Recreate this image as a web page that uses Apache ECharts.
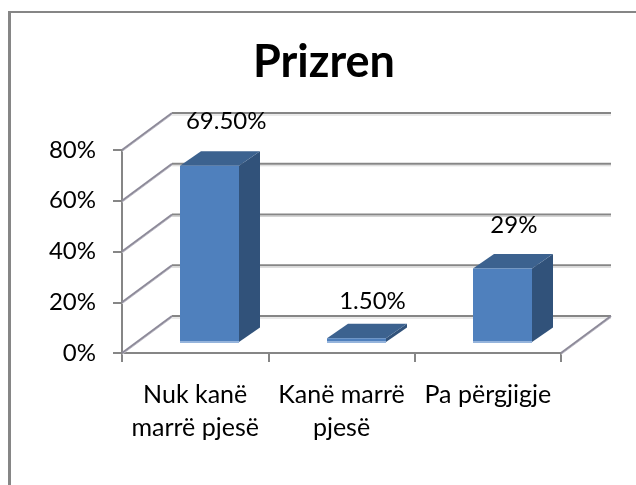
<!DOCTYPE html>
<html>
<head>
<meta charset="utf-8">
<style>
    html, body { margin: 0; padding: 0; background: #fff; }
    #chart { width: 636px; height: 485px; }
</style>
<script src="https://cdn.jsdelivr.net/npm/echarts@6/dist/echarts.min.js"></script>
</head>
<body>
<div id="chart"></div>
<script>
    var titleText = 'Prizren';
    var categories = ['Nuk kanë\nmarrë pjesë', 'Kanë marrë\npjesë', 'Pa përgjigje'];
    var values = [69.5, 1.5, 29];
    var valueLabels = ['69.50%', '1.50%', '29%'];
    var wallTicks = [0, 20, 40, 60, 80];

    var fontName = 'Lato';
    var axisColor = '#868686';
    // pseudo 3D: depth of the walls and of the bars, in pixels
    var wallDepth = [50, -37];
    var barDepth = [21, -14.5];
    var barWidth = 59;
    var barShift = [14.5, -11];
    var labelNudge = [[6, -30], [6, -22], [1, -29]];

    var myEcharts = echarts.init(document.getElementById('chart'));

    function line(x1, y1, x2, y2, color, width) {
        return {
            type: 'line',
            shape: { x1: x1, y1: y1, x2: x2, y2: y2 },
            style: { stroke: color, lineWidth: width }
        };
    }

    function poly(points, color) {
        return { type: 'polygon', shape: { points: points }, style: { fill: color } };
    }

    // back wall: gridlines shifted by the depth and the diagonals joining them to the axis
    function renderWall(params, api) {
        var v = api.value(0);
        var sys = params.coordSys;
        var y = api.coord([0, v])[1];
        var left = sys.x;
        var right = sys.x + sys.width;
        var backY = y + wallDepth[1];
        var children = [
            line(left + wallDepth[0], backY + 2, right + wallDepth[0], backY + 2, '#d4d4d4', 1),
            line(left + wallDepth[0], backY, right + wallDepth[0], backY, axisColor, 2),
            line(left, y + 1.5, left + wallDepth[0], backY + 1.5, '#c4c2cc', 1),
            line(left, y, left + wallDepth[0], backY, '#8d8a99', 2)
        ];
        if (v === 0) {
            children.push(line(right, y + 1.5, right + wallDepth[0], backY + 1.5, '#c4c2cc', 1));
            children.push(line(right, y, right + wallDepth[0], backY, '#8d8a99', 2));
        }
        return { type: 'group', children: children };
    }

    function renderBar(params, api) {
        var i = api.value(0);
        var top = api.coord([i, api.value(1)]);
        var base = api.coord([i, 0]);
        var x0 = Math.round(base[0] + barShift[0] - barWidth / 2);
        var x1 = x0 + barWidth;
        var y0 = base[1] + barShift[1];
        var y1 = top[1] + barShift[1];
        var dx = barDepth[0];
        var dy = barDepth[1];
        return {
            type: 'group',
            children: [
                poly([[x1, y1], [x1 + dx, y1 + dy], [x1 + dx, y0 + dy], [x1, y0]], '#31527a'),
                poly([[x0, y1], [x0 + dx, y1 + dy], [x1 + dx, y1 + dy], [x1, y1]], '#3c628f'),
                { type: 'rect', shape: { x: x0, y: y1, width: barWidth, height: y0 - y1 }, style: { fill: '#4f80bd' } },
                { type: 'rect', shape: { x: x0, y: y0 - 1, width: barWidth, height: 2 }, style: { fill: '#95b4dc' } }
            ]
        };
    }

    function renderValueLabel(params, api) {
        var i = api.value(0);
        var top = api.coord([i, api.value(1)]);
        return {
            type: 'text',
            style: {
                x: top[0] + barShift[0] + barDepth[0] / 2 + labelNudge[i][0],
                y: top[1] + barShift[1] + barDepth[1] + labelNudge[i][1],
                text: valueLabels[i],
                fill: '#000',
                font: '24px ' + fontName,
                align: 'center',
                verticalAlign: 'middle'
            }
        };
    }

    var barData = values.map(function (v, i) { return [i, v]; });

    myEcharts.setOption({
        animation: false,
        backgroundColor: '#fff',
        title: {
            text: titleText,
            left: 319,
            top: 35,
            textAlign: 'center',
            textStyle: { fontFamily: fontName, fontWeight: 'bold', fontSize: 45, color: '#000' }
        },
        grid: { left: 122, right: 75, top: 150, bottom: 132 },
        xAxis: {
            type: 'category',
            data: categories,
            axisLine: { lineStyle: { color: axisColor, width: 2 } },
            axisTick: { show: true, length: 9, alignWithLabel: false, lineStyle: { color: axisColor, width: 2 } },
            axisLabel: {
                margin: 25,
                interval: 0,
                fontFamily: fontName,
                fontSize: 25,
                lineHeight: 33,
                color: '#000'
            }
        },
        yAxis: {
            type: 'value',
            min: 0,
            max: 80,
            interval: 20,
            axisLine: { show: true, lineStyle: { color: axisColor, width: 2 } },
            axisTick: { show: true, length: 9, lineStyle: { color: axisColor, width: 2 } },
            axisLabel: {
                margin: 26,
                padding: [3, 0, 0, 0],
                fontFamily: fontName,
                fontSize: 24,
                color: '#000',
                formatter: '{value}%'
            },
            splitLine: { show: false }
        },
        series: [
            { type: 'custom', renderItem: renderWall, data: wallTicks.map(function (v) { return [v]; }), silent: true, z: 1 },
            { type: 'custom', renderItem: renderBar, data: barData, z: 3, encode: { x: 0, y: 1 } },
            { type: 'custom', renderItem: renderValueLabel, data: barData, z: 4, silent: true, encode: { x: 0, y: 1 } }
        ],
        graphic: [
            // chart frame, only the top and left edges are inside the picture
            { type: 'line', shape: { x1: 8, y1: 12, x2: 636, y2: 12 }, style: { stroke: axisColor, lineWidth: 2 } },
            { type: 'line', shape: { x1: 9.5, y1: 11, x2: 9.5, y2: 485 }, style: { stroke: axisColor, lineWidth: 3 } }
        ]
    });
</script>
</body>
</html>
